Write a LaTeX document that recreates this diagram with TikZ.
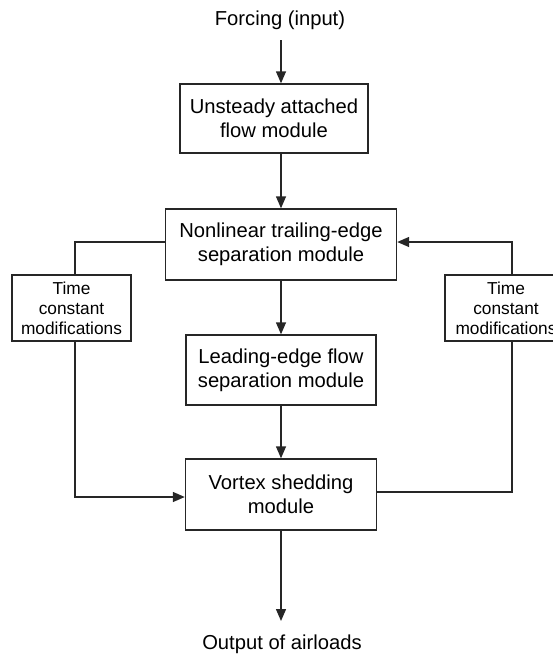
\documentclass[tikz,border=0pt]{standalone}
\usepackage{fontspec}
\setmainfont{Liberation Sans}
\usetikzlibrary{arrows.meta}
\begin{document}
\begin{tikzpicture}[x=1pt,y=-1pt,
  box/.style={draw=black!85, line width=1.4pt, align=center, font=\fontsize{20.2}{24}\selectfont, inner sep=0pt},
  tbox/.style={draw=black!85, line width=1.4pt, align=center, font=\fontsize{17.3}{20}\selectfont, inner sep=0pt},
  lbl/.style={font=\fontsize{20.2}{24}\selectfont, inner sep=0pt},
  arr/.style={line width=1.4pt, draw=black!85, -{Triangle[length=12pt,width=10pt]}},
  ln/.style={line width=1.4pt, draw=black!85}]
\useasboundingbox (0,0) rectangle (553,656);
\node[lbl] (in) at (280,20) {Forcing (input)};
\node[box, minimum width=188pt, minimum height=69pt] (b1) at (274,118.5) {Unsteady attached\\flow module};
\node[box, minimum width=231pt, minimum height=71pt] (b2) at (281,244.5) {Nonlinear trailing-edge\\separation module};
\node[box, minimum width=190pt, minimum height=70pt] (b3) at (281,370) {Leading-edge flow\\separation module};
\node[box, minimum width=191pt, minimum height=71pt] (b4) at (281,494.5) {Vortex shedding\\module};
\node[lbl] (out) at (282,644) {Output of airloads};
\node[tbox, minimum width=119pt, minimum height=66pt] (tl) at (71.5,308) {Time\\constant\\modifications};
\node[tbox, minimum width=122pt, minimum height=66pt] (tr) at (506,308) {Time\\constant\\modifications};
\coordinate (c1) at (75,242);
\coordinate (c2) at (75,497);
\coordinate (c3) at (512,242);
\coordinate (c4) at (512,492);
\draw[arr] (b2.north |- 0,40) -- (b1.north -| b2.north);
\draw[arr] (b1.south -| b2.center) -- (b2.north);
\draw[arr] (b2.south -| b3.center) -- (b3.north);
\draw[arr] (b3.south -| b4.center) -- (b4.north);
\draw[arr] (b4.south) -- (b4.south |- 0,621);
\draw[ln] (b2.west |- c1) -- (c1) -- (tl.north -| c1);
\draw[arr] (tl.south -| c2) -- (c2) -- (b4.west |- c2);
\draw[ln] (b4.east |- c4) -- (c4) -- (tr.south -| c4);
\draw[arr] (tr.north -| c3) -- (c3) -- (b2.east |- c3);
\end{tikzpicture}
\end{document}
